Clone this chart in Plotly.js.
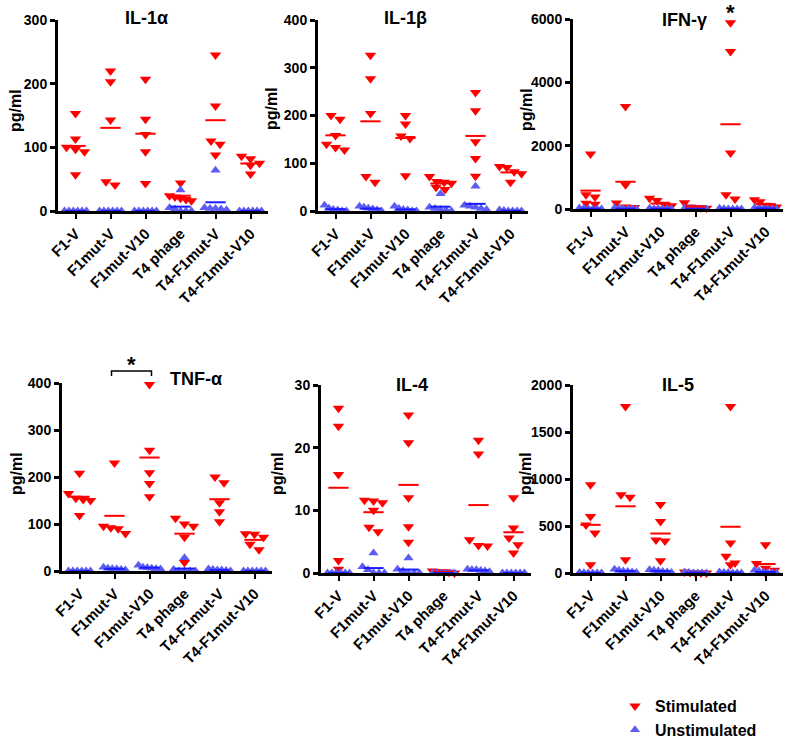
<!DOCTYPE html>
<html><head><meta charset="utf-8">
<script src="https://cdn.plot.ly/plotly-3.0.1.min.js"></script>
<style>body{margin:0;background:#fff}</style>
</head><body><div id="chart" style="width:797px;height:741px"></div>
<script>
const categories = ["F1-V","F1mut-V","F1mut-V10","T4 phage","T4-F1mut-V","T4-F1mut-V10"];
const titles = ["IL-1α","IL-1β","IFN-γ","TNF-α","IL-4","IL-5"];
const yMax = [300,400,6000,400,30,2000];
const yTicks = [[0,100,200,300],[0,100,200,300,400],[0,2000,4000,6000],[0,100,200,300,400],[0,10,20,30],[0,500,1000,1500,2000]];

const il1a_stim = [[153,113,100,97,93,57],[220,203,143,46,41],[207,144,120,93,43],[44,24,22,20,18,16],[245,165,110,105,88],[86,82,75,72,58]];
const il1a_unstim = [[0,0,0,0,0,0],[0,0,0,0,0,0],[0,0,0,0,0,0],[33,5,3,0,0,0],[64,5,4,4,3,2],[0,0,0,0,0,0]];
const il1b_stim = [[200,192,158,140,133,128],[326,277,204,72,60],[200,182,157,152,74],[72,62,60,58,50,45],[248,210,145,110,73],[93,91,82,78,60]];
const il1b_unstim = [[12,6,3,2,0,0],[10,8,6,4,2,0],[10,5,3,2,0,0],[36,8,5,3,2,0],[52,12,10,8,5,3],[2,1,0,0,0,0]];
const ifng_stim = [[1740,450,380,180,150],[3235,767,190,60,50],[340,270,150,100,0],[200,60,50,40,20],[5880,4970,1765,450,315],[290,230,120,80,60]];
const ifng_unstim = [[30,20,10,0,0,0],[30,20,10,0,0,0],[20,10,5,0,0,0],[20,10,0,0,0,0],[20,10,0,0,0,0],[40,30,20,10,0,0]];
const tnfa_stim = [[208,165,155,152,150,118],[230,95,92,90,80],[397,257,209,186,158],[112,100,95,72,18],[200,188,145,126,105],[79,78,72,57,45]];
const tnfa_unstim = [[0,0,0,0,0,0],[8,6,5,4,3,2],[12,8,7,6,5,4],[28,3,0,0,0,0],[4,3,2,2,1,0],[0,0,0,0,0,0]];
const il4_stim = [[26.3,23.4,15.7,2,0.6],[11.6,11.5,11.2,10.0,7.3,6.6],[25.2,20.8,12,7.4,4.9],[0.3,0.2,0.2,0.1,0],[21.2,19,5.3,4.4,4.3],[12,7.2,5.6,4.5,3.2]];
const il4_unstim = [[0,0,0,0,0,0],[3.2,1,0.5,0,0,0],[2.4,0.6,0.3,0,0,0],[0,0,0,0,0,0],[0.6,0.5,0.5,0.4,0.3,0.2],[0,0,0,0,0,0]];
const il5_stim = [[938,602,510,425,88],[1770,832,805,142,0],[730,549,350,340,131],[10,5,0,0,0],[1770,318,177,106,88],[300,100,50,30,0]];
const il5_unstim = [[5,3,0,0,0,0],[40,30,20,15,10,5],[35,30,25,15,10,5],[10,5,0,0,0,0],[10,5,5,0,0,0],[30,20,10,5,0,0]];

const stimSets = [il1a_stim, il1b_stim, ifng_stim, tnfa_stim, il4_stim, il5_stim];
const unstimSets = [il1a_unstim, il1b_unstim, ifng_unstim, tnfa_unstim, il4_unstim, il5_unstim];

const W = 797, H = 741;
const panels = [
  {x0:58, top:20, bottom:211},
  {x0:318, top:20, bottom:211},
  {x0:573, top:19, bottom:209},
  {x0:62, top:383, bottom:571},
  {x0:321, top:385, bottom:573},
  {x0:573, top:385, bottom:573}
];
const PW = 210, UNIT = PW/6;
const RED = '#ff0000', BLUE_PT = '#5c5cf5', BLUE_LN = '#1a1aff';
const FONT = 'Liberation Sans, Arial, sans-serif';
const bold = t => '<b>' + t + '</b>';

function spread(groups, pxPerY) {
  const xs = [], ys = [];
  groups.forEach((vals, gi) => {
    const pts = vals.slice().sort((a,b)=>b-a);
    let clusters = [], cur = [];
    pts.forEach(v => {
      if (cur.length && (cur[0]-v)*pxPerY > 8) { clusters.push(cur); cur = []; }
      cur.push(v);
    });
    if (cur.length) clusters.push(cur);
    clusters.forEach(c => {
      const n = c.length;
      const s = n > 1 ? Math.min(9, 22/(n-1)) : 0;
      c.forEach((v,k) => {
        xs.push(gi + ((k-(n-1)/2)*s)/UNIT);
        ys.push(v);
      });
    });
  });
  return {xs, ys};
}
function meanLines(groups) {
  const x = [], y = [];
  groups.forEach((vals, gi) => {
    const m = vals.reduce((a,b)=>a+b,0)/vals.length;
    x.push(gi-0.29, gi+0.29, null);
    y.push(m, m, null);
  });
  return {x, y};
}

const data = [];
const layout = {
  width: W, height: H, margin:{l:0,r:0,t:0,b:0,autoexpand:false},
  paper_bgcolor:'#fff', plot_bgcolor:'#fff', showlegend:true,
  font:{family:FONT, color:'#000'},
  legend:{x:615/W, y:1-689/H, xanchor:'left', yanchor:'top', font:{family:FONT, size:16, color:'#000'}, tracegroupgap:0, itemwidth:30, bgcolor:'rgba(0,0,0,0)'},
  annotations:[], shapes:[]
};

panels.forEach((p, i) => {
  const n = i === 0 ? '' : String(i+1);
  const xa = 'x'+n, ya = 'y'+n;
  const pxPerY = (p.bottom-p.top)/yMax[i];
  const s = spread(stimSets[i], pxPerY);
  const u = spread(unstimSets[i], pxPerY);
  data.push({type:'scatter', mode:'markers', x:s.xs, y:s.ys, xaxis:xa, yaxis:ya, cliponaxis:false,
    marker:{symbol:'triangle-down', size:10, color:RED}, name:bold('Stimulated'), showlegend:i===0, hoverinfo:'y'});
  data.push({type:'scatter', mode:'markers', x:u.xs, y:u.ys, xaxis:xa, yaxis:ya, cliponaxis:false,
    marker:{symbol:'triangle-up', size:9, color:BLUE_PT}, name:bold('Unstimulated'), showlegend:i===0, hoverinfo:'y'});
  const ms = meanLines(stimSets[i]);
  const mu = meanLines(unstimSets[i]);
  data.push({type:'scatter', mode:'lines', x:ms.x, y:ms.y, xaxis:xa, yaxis:ya, cliponaxis:false,
    line:{color:RED, width:2}, showlegend:false, hoverinfo:'skip'});
  data.push({type:'scatter', mode:'lines', x:mu.x, y:mu.y, xaxis:xa, yaxis:ya, cliponaxis:false,
    line:{color:BLUE_LN, width:2}, showlegend:false, hoverinfo:'skip'});

  layout['xaxis'+n] = {
    domain:[p.x0/W, (p.x0+PW)/W], anchor:ya, range:[-0.5,5.5],
    tickvals:[0,1,2,3,4,5], ticktext:categories.map(bold), tickangle:-45,
    tickfont:{family:FONT, size:15, color:'#000'},
    showline:true, linecolor:'#000', linewidth:3, ticks:'outside', ticklen:5, tickwidth:2, tickcolor:'#000',
    showgrid:false, zeroline:false, fixedrange:true, automargin:false
  };
  layout['yaxis'+n] = {
    domain:[1-p.bottom/H, 1-p.top/H], anchor:xa, range:[0, yMax[i]],
    tickvals:yTicks[i], ticktext:yTicks[i].map(v=>bold(v)), tickfont:{family:FONT, size:14, color:'#000'},
    showline:true, linecolor:'#000', linewidth:3, ticks:'outside', ticklen:5, tickwidth:3, tickcolor:'#000',
    showgrid:false, zeroline:false, fixedrange:true, automargin:false
  };
});

const titlePos = [[146,18],[405,18],[684,20],[196,379],[412,385],[678,385]];
titles.forEach((t,i) => {
  layout.annotations.push({xref:'paper', yref:'paper', x:titlePos[i][0]/W, y:1-titlePos[i][1]/H,
    text:bold(t), showarrow:false, xanchor:'center', yanchor:'middle',
    font:{family:FONT, size:18, color:'#000'}});
});
const ylabPos = [[15,110],[272,109],[526,110],[16,473],[277,474],[525,474]];
ylabPos.forEach(pp => {
  layout.annotations.push({xref:'paper', yref:'paper', x:pp[0]/W, y:1-pp[1]/H, text:bold('pg/ml'),
    textangle:-90, showarrow:false, xanchor:'center', yanchor:'middle',
    font:{family:FONT, size:16, color:'#000'}});
});
// significance marks
function catX(pi, c) { return panels[pi].x0 + (c+0.5)*UNIT; }
layout.annotations.push({xref:'paper', yref:'paper', x:catX(2,4)/W, y:1-12/H, text:bold('*'), showarrow:false,
  xanchor:'center', yanchor:'middle', font:{family:FONT, size:22, color:'#000'}});
const bx0 = catX(3,1)-3, bx1 = catX(3,2)+2;
layout.shapes.push({type:'path', xref:'paper', yref:'paper',
  path:`M ${bx0/W} ${1-376/H} L ${bx0/W} ${1-371/H} L ${bx1/W} ${1-371/H} L ${bx1/W} ${1-376/H}`,
  line:{color:'#000', width:1.5}});
layout.annotations.push({xref:'paper', yref:'paper', x:((bx0+bx1)/2)/W, y:1-364/H, text:bold('*'), showarrow:false,
  xanchor:'center', yanchor:'middle', font:{family:FONT, size:22, color:'#000'}});

Plotly.newPlot('chart', data, layout, {displayModeBar:false, staticPlot:true});
</script></body></html>
